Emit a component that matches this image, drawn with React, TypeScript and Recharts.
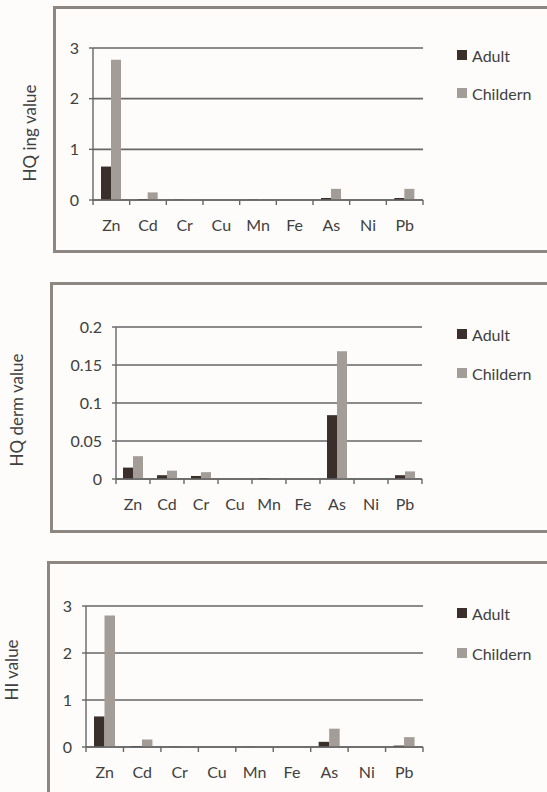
import React from 'react';
import { BarChart, Bar, XAxis, YAxis, CartesianGrid, Legend } from 'recharts';

const categories = ['Zn', 'Cd', 'Cr', 'Cu', 'Mn', 'Fe', 'As', 'Ni', 'Pb'];
const seriesNames = ['Adult', 'Childern'];

const ingAdult = [0.66, 0.02, 0.005, 0, 0.005, 0, 0.04, 0, 0.04];
const ingChild = [2.77, 0.15, 0.01, 0, 0.01, 0, 0.22, 0, 0.22];
const dermAdult = [0.015, 0.005, 0.004, 0, 0.001, 0, 0.084, 0, 0.005];
const dermChild = [0.03, 0.011, 0.009, 0, 0.001, 0, 0.168, 0, 0.01];
const hiAdult = [0.65, 0.02, 0.005, 0, 0.005, 0, 0.11, 0, 0.03];
const hiChild = [2.8, 0.16, 0.01, 0, 0.01, 0, 0.39, 0, 0.21];

const ticksHQ = [0, 1, 2, 3];
const ticksDerm = [0, 0.05, 0.1, 0.15, 0.2];
const ticksHI = [0, 1, 2, 3];

const ADULT = '#3a2f2b';
const CHILD = '#a39c97';
const GRID = '#666';
const TEXT = '#404040';
const BORDER = '#8e8681';
const FONT = 'Lato, "Open Sans", sans-serif';
const LEGEND_W = 90;

const build = (a: number[], c: number[]) =>
  categories.map((name, i) => ({ name, Adult: a[i], Childern: c[i] }));

const makeTick = (step: number) => (props: any) => {
  const { x, y, payload, index } = props;
  return (
    <g>
      <text x={x} y={y + 31} textAnchor="middle" fontSize={16} fill={TEXT} fontFamily={FONT}>
        {payload.value}
      </text>
      <line x1={x - step / 2} x2={x - step / 2} y1={y} y2={y + 5} stroke={GRID} strokeWidth={1.4} />
      {index === categories.length - 1 && (
        <line x1={x + step / 2} x2={x + step / 2} y1={y} y2={y + 5} stroke={GRID} strokeWidth={1.4} />
      )}
    </g>
  );
};

const renderLegend = (gap: number) => () => (
  <div style={{ fontFamily: FONT, fontSize: 16, color: TEXT }}>
    {seriesNames.map((n, i) => (
      <div key={n} style={{ display: 'flex', alignItems: 'center', height: 20, marginBottom: i === 0 ? gap : 0 }}>
        <span style={{ width: 10, height: 10, background: i === 0 ? ADULT : CHILD, display: 'inline-block', marginRight: 5 }} />
        <span>{n}</span>
      </div>
    ))}
  </div>
);

type PanelProps = {
  top: number;
  height: number;
  data: any[];
  ticks: number[];
  domainMax: number;
  margin: { top: number; right: number; bottom: number; left: number };
  step: number;
  barSize: number;
  legendTop: number;
  legendGap: number;
};

const Panel = ({ top, height, data, ticks, domainMax, margin, step, barSize, legendTop, legendGap }: PanelProps) => (
  <div style={{ position: 'absolute', left: 0, top, width: 547, height }}>
    <BarChart
      width={547}
      height={height}
      data={data}
      margin={{ ...margin, right: margin.right - LEGEND_W }}
      barGap={0}
      barSize={barSize}
    >
      <CartesianGrid vertical={false} stroke={GRID} strokeWidth={1.6} strokeDasharray="" />
      <XAxis
        dataKey="name"
        height={30}
        tickSize={0}
        tickMargin={0}
        tickLine={false}
        axisLine={{ stroke: GRID, strokeWidth: 1.4 }}
        tick={makeTick(step)}
        interval={0}
      />
      <YAxis
        width={40}
        domain={[0, domainMax]}
        ticks={ticks}
        interval={0}
        tickSize={4}
        tickMargin={10}
        tickLine={{ stroke: GRID, strokeWidth: 1.4 }}
        axisLine={{ stroke: GRID, strokeWidth: 1.4 }}
        tick={{ fontSize: 16, fill: TEXT, fontFamily: FONT }}
      />
      <Legend
        layout="vertical"
        verticalAlign="top"
        align="right"
        wrapperStyle={{ left: 457, top: legendTop, width: LEGEND_W }}
        content={renderLegend(legendGap)}
      />
      <Bar dataKey="Adult" fill={ADULT} isAnimationActive={false} />
      <Bar dataKey="Childern" fill={CHILD} isAnimationActive={false} />
    </BarChart>
  </div>
);

const Box = ({ left, top, height }: { left: number; top: number; height: number }) => (
  <div
    style={{
      position: 'absolute',
      left,
      top,
      width: 600,
      height,
      border: `3px solid ${BORDER}`,
      boxSizing: 'border-box',
    }}
  />
);

const YLabel = ({ cx, cy, text }: { cx: number; cy: number; text: string }) => (
  <div
    style={{
      position: 'absolute',
      left: cx,
      top: cy,
      transform: 'translate(-50%, -50%) rotate(-90deg)',
      whiteSpace: 'nowrap',
      fontFamily: FONT,
      fontSize: 17,
      color: TEXT,
    }}
  >
    {text}
  </div>
);

export default function App() {
  return (
    <div
      style={{
        position: 'absolute',
        left: 0,
        top: 0,
        width: 547,
        height: 792,
        overflow: 'hidden',
        background: '#fdfcfa',
      }}
    >
      <Box left={53} top={6} height={247} />
      <Box left={50} top={282} height={251} />
      <Box left={47} top={561} height={260} />

      <Panel
        top={0}
        height={260}
        data={build(ingAdult, ingChild)}
        ticks={ticksHQ}
        domainMax={3}
        margin={{ top: 48, right: 124, bottom: 30, left: 53 }}
        step={36.67}
        barSize={10}
        legendTop={45}
        legendGap={18}
      />
      <Panel
        top={260}
        height={270}
        data={build(dermAdult, dermChild)}
        ticks={ticksDerm}
        domainMax={0.2}
        margin={{ top: 67, right: 125, bottom: 21, left: 76 }}
        step={34}
        barSize={10}
        legendTop={64}
        legendGap={19}
      />
      <Panel
        top={530}
        height={262}
        data={build(hiAdult, hiChild)}
        ticks={ticksHI}
        domainMax={3}
        margin={{ top: 76, right: 124, bottom: 15, left: 46 }}
        step={37.4}
        barSize={10.5}
        legendTop={73}
        legendGap={20}
      />

      <YLabel cx={29} cy={133} text="HQ ing value" />
      <YLabel cx={16} cy={410} text="HQ derm value" />
      <YLabel cx={11} cy={670} text="HI value" />
    </div>
  );
}
